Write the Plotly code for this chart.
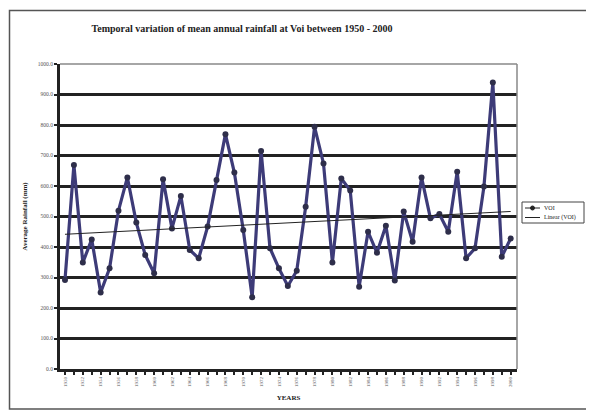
import numpy as np
import plotly.graph_objects as go

years = list(range(1950, 2001))
rainfall = [292, 669, 349, 425, 251, 330, 519, 628, 480, 374,
            314, 622, 461, 567, 390, 363, 467, 620, 770, 644,
            456, 235, 715, 396, 330, 272, 322, 532, 794, 674,
            349, 625, 585, 270, 450, 381, 470, 290, 516, 417,
            628, 494, 508, 450, 647, 363, 396, 598, 939, 368,
            428]
y_ticks = [0, 100, 200, 300, 400, 500, 600, 700, 800, 900, 1000]
x_tick_labels = [str(y) if (y - 1950) % 2 == 0 else "" for y in years]
series_names = ["VOI", "Linear (VOI)"]

slope, intercept = np.polyfit(years, rainfall, 1)
trend = [slope * y + intercept for y in years]

serif = "Liberation Serif, Times New Roman, serif"

# the page body has an 8px default margin; work in screen pixels and offset
OFF = 8
W, H = 594 - OFF, 413 - OFF
L, R, T, B = 60 - OFF, 517 - OFF, 64 - OFF, 369 - OFF  # plot area in figure pixels


def px(x):
    return (x - OFF - L) / (R - L)


def py(y):
    return (B - (y - OFF)) / (B - T)


fig = go.Figure()
fig.add_trace(go.Scatter(
    x=years, y=rainfall, mode="lines+markers", name=series_names[0],
    line=dict(color="#3d3b78", width=3.2),
    marker=dict(color="#2e2e4a", size=6, symbol="circle"),
))
fig.add_trace(go.Scatter(
    x=years, y=trend, mode="lines", name=series_names[1],
    line=dict(color="#222222", width=1),
))

fig.update_layout(
    width=W, height=H,
    margin=dict(l=L, r=W - R, t=T, b=H - B),
    paper_bgcolor="white", plot_bgcolor="rgba(0,0,0,0)",
    font=dict(family=serif, size=7, color="#222"),
    title=dict(text="<b>Temporal variation of mean annual rainfall at Voi between 1950 - 2000</b>",
               x=(242 - OFF) / W, xanchor="center", y=1 - (28 - OFF) / H, yanchor="middle",
               font=dict(size=10, family=serif, color="#222")),
    showlegend=False,
    xaxis=dict(
        range=[1949.44, 2000.71], tickmode="array", tickvals=years,
        ticktext=x_tick_labels, tickangle=-90, tickfont=dict(size=5, color="#555"),
        ticks="outside", ticklen=3, tickwidth=1.5, tickcolor="#222",
        showgrid=False, showline=True, linecolor="#222", linewidth=3,
        mirror=False, zeroline=False,
        title=dict(text="<b>YEARS</b>", font=dict(size=7, family=serif), standoff=10),
    ),
    yaxis=dict(
        range=[0, 1000], tickmode="array", tickvals=y_ticks,
        ticktext=[f"{v:.1f}" for v in y_ticks], tickfont=dict(size=5.5, color="#555"),
        ticks="outside", ticklen=3, tickwidth=1.5, tickcolor="#222",
        showgrid=True, gridcolor="#222", gridwidth=2.5,
        showline=True, linecolor="#222", linewidth=3, zeroline=False,
        title=dict(text="<b>Average Rainfall (mm)</b>", font=dict(size=7, family=serif), standoff=10),
    ),
)
# right/top plot border (thin gray)
fig.add_shape(type="line", xref="paper", yref="paper", x0=1, y0=0, x1=1, y1=1,
              line=dict(color="#888", width=1.5), layer="above")
fig.add_shape(type="line", xref="paper", yref="paper", x0=0, y0=1, x1=1, y1=1,
              line=dict(color="#888", width=1.5), layer="above")
# outer chart border (kept inside the figure canvas)
fig.add_shape(type="rect", xref="paper", yref="paper",
              x0=px(9.5), x1=px(589.5), y0=py(409), y1=py(10.5),
              line=dict(color="#555", width=1.5), layer="above")

# legend (drawn manually to match compact size)
fig.add_shape(type="rect", xref="paper", yref="paper",
              x0=px(522), x1=px(584), y0=py(223), y1=py(202),
              line=dict(color="#444", width=1), fillcolor="white", layer="above")
fig.add_shape(type="line", xref="paper", yref="paper",
              x0=px(525), x1=px(540), y0=py(208), y1=py(208),
              line=dict(color="#222", width=1), layer="above")
fig.add_shape(type="circle", xref="paper", yref="paper",
              x0=px(530.5), x1=px(534.5), y0=py(210), y1=py(206),
              line=dict(color="#222", width=1), fillcolor="#222", layer="above")
fig.add_shape(type="line", xref="paper", yref="paper",
              x0=px(525), x1=px(540), y0=py(217.5), y1=py(217.5),
              line=dict(color="#222", width=1), layer="above")
fig.add_annotation(xref="paper", yref="paper", x=px(542), y=py(208), text=series_names[0],
                   showarrow=False, xanchor="left", yanchor="middle",
                   font=dict(size=6, family=serif, color="#222"))
fig.add_annotation(xref="paper", yref="paper", x=px(542), y=py(217.5), text=series_names[1],
                   showarrow=False, xanchor="left", yanchor="middle",
                   font=dict(size=6, family=serif, color="#222"))

fig.write_html("out.html")
